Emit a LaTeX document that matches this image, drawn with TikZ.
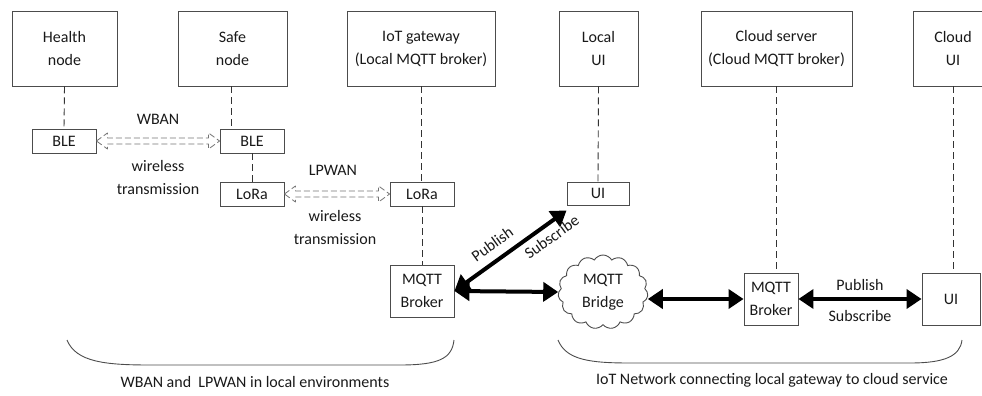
\documentclass[tikz,border=0pt]{standalone}
\usepackage{fontspec}
\setmainfont{Carlito}
\usetikzlibrary{arrows.meta, calc, shapes.symbols}

\begin{document}
\begin{tikzpicture}[x=1pt, y=-1pt,
    every node/.style={font=\fontsize{16}{23}\selectfont, text=black!90},
    unit/.style={draw=black!70, line width=0.9pt, inner sep=0pt, align=center},
    top/.style={unit, minimum height=75pt},
    dev/.style={unit, minimum width=64pt, minimum height=24pt},
    link/.style={draw=black!80, line width=0.9pt, dash pattern=on 7pt off 4pt},
    radio/.style={draw=black!55, line width=0.8pt, dash pattern=on 6pt off 3pt, line join=round},
    mqtt/.style={line width=4pt, {Triangle[length=15pt,width=19pt]}-{Triangle[length=15pt,width=19pt]}}]
  \useasboundingbox (0,0) rectangle (982,396);
  \clip (0,0) rectangle (982,396);
  % top row
  \node[top, minimum width=105pt] (health) at (64.5,48.5) {Health\\node};
  \node[top, minimum width=109pt] (safe) at (232.5,48.5) {Safe\\node};
  \node[top, minimum width=148pt] (gw) at (421,48.5) {IoT gateway\\(Local MQTT broker)};
  \node[top, minimum width=79pt] (localui) at (598.5,48.5) {Local\\UI};
  \node[top, minimum width=151pt] (cloudsrv) at (776.5,48.5) {Cloud server\\(Cloud MQTT broker)};
  \node[top, minimum width=80pt] (cloudui) at (953,48.5) {Cloud\\UI};
  % devices
  \node[dev] (bleA) at (64,141) {BLE};
  \node[dev] (bleB) at (252,141) {BLE};
  \node[dev] (loraA) at (252,194) {LoRa};
  \node[dev] (loraB) at (422,194) {LoRa};
  \node[dev, minimum height=52pt] (brokerA) at (422,291) {MQTT\\Broker};
  \node[dev, minimum width=62pt, minimum height=23pt] (uiA) at (598,193.5) {UI};
  \node[cloud, cloud puffs=15, cloud puff arc=120, draw=black!70, line width=0.9pt, inner sep=0pt,
    align=center, minimum width=90pt, minimum height=74pt] (bridge) at (603,292) {MQTT\\Bridge};
  \node[dev, minimum width=54pt, minimum height=52pt] (brokerB) at (771,299) {MQTT\\Broker};
  \node[dev, minimum width=58pt, minimum height=52pt] (uiB) at (951,299) {UI};
  % dashed links
  \draw[link] (health.south) -- (bleA.north);
  \draw[link] ([xshift=-1.5pt]safe.south) -- ([xshift=-1.5pt]safe.south |- bleB.north);
  \draw[link] (bleB.south) -- (loraA.north);
  \draw[link] (gw.south) -- (gw.south |- loraB.north);
  \draw[link] (loraB.south) -- (brokerA.north);
  \draw[link] (localui.south) -- (uiA.north);
  \draw[link] (cloudsrv.south) -- (cloudsrv.south |- brokerB.north);
  \draw[link] (cloudui.south) -- (cloudui.south |- uiB.north);
  % wireless
  \draw[radio] (bleA.east) -- ++(11,-8) -- ++(0,5) -- ($(bleB.west)+(-11,-3)$)
    -- ++(0,-5) -- (bleB.west) -- ++(-11,8) -- ++(0,-5)
    -- ($(bleA.east)+(11,3)$) -- ++(0,5) -- cycle;
  \draw[radio] (loraA.east) -- ++(11,-8) -- ++(0,5) -- ($(loraB.west)+(-11,-3)$)
    -- ++(0,-5) -- (loraB.west) -- ++(-11,8) -- ++(0,-5)
    -- ($(loraA.east)+(11,3)$) -- ++(0,5) -- cycle;
  \node (wban) at (158,119) {WBAN};
  \node[align=center] (wtA) at (158,178) {wireless\\transmission};
  \node (lpwan) at (333,170) {LPWAN};
  \node[align=center] (wtB) at (335,227.5) {wireless\\transmission};
  % MQTT
  \draw[mqtt] (brokerA.east) -- ([yshift=-5pt]uiA.south west)
    node[pos=0.42, sloped, above=5pt] (pubA) {Publish}
    node[pos=0.8, sloped, below=2pt] (subA) {Subscribe};
  \draw[mqtt] (brokerA.east) -- (bridge.west);
  \draw[mqtt] (brokerB.west -| bridge.east) -- (brokerB.west);
  \draw[mqtt] (brokerB.east) -- (uiB.west)
    node[midway, above=3pt] (pubB) {Publish}
    node[midway, below=6pt] (subB) {Subscribe};
  % areas
  \draw[black!70, line width=0.9pt] (67,340) .. controls (76,362) and (105,365) .. (150,365) -- (400,365)
    .. controls (440,365) and (452,358) .. (454,340);
  \draw[black!70, line width=0.9pt] (558,340) .. controls (566,360) and (590,363) .. (630,363) -- (910,363)
    .. controls (945,363) and (960,356) .. (962,340);
  \node (localenv) at (255,382) {WBAN and\ \ LPWAN in local environments};
  \node (iotnet) at (772,380) {IoT Network connecting local gateway to cloud service};
\end{tikzpicture}
\end{document}
